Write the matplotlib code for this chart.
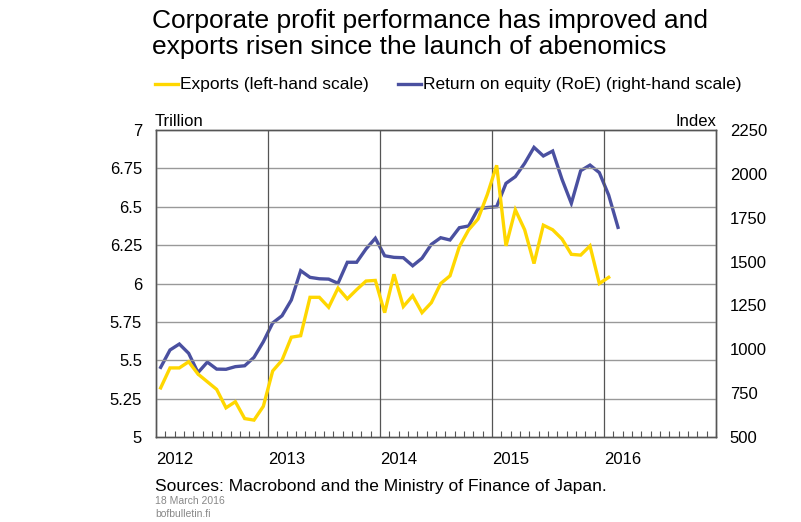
import numpy as np
import matplotlib
matplotlib.use("Agg")
import matplotlib.pyplot as plt
from matplotlib.ticker import FixedLocator, MultipleLocator

plt.rcParams["font.family"] = ["Liberation Sans", "DejaVu Sans"]

# Datos mensuales (a mitad de mes)
exports = [5.32, 5.45, 5.45, 5.49, 5.41, 5.36, 5.31, 5.19, 5.23, 5.12, 5.11, 5.20,
           5.43, 5.50, 5.65, 5.66, 5.91, 5.91, 5.845, 5.97, 5.90, 5.96, 6.016, 6.02,
           5.81, 6.06, 5.85, 5.92, 5.81, 5.875, 6.00, 6.05, 6.24, 6.35, 6.42, 6.58,
           6.77, 6.245, 6.48, 6.35, 6.13, 6.38, 6.35, 6.29, 6.19, 6.185, 6.245, 6.00,
           6.04]
roe = [897, 996, 1030, 977, 867, 927, 887, 886, 901, 906, 954, 1043,
       1150, 1191, 1281, 1448, 1410, 1402, 1400, 1376, 1496, 1496, 1572, 1633,
       1533, 1524, 1522, 1476, 1519, 1598, 1636, 1623, 1693, 1703, 1800, 1808,
       1813, 1946, 1984, 2060, 2151, 2102, 2130, 1969, 1832, 2018, 2050, 2007,
       1879, 1695]
start_year = 2012
years = [2012, 2013, 2014, 2015, 2016]
left_ticks = [5, 5.25, 5.5, 5.75, 6, 6.25, 6.5, 6.75, 7]
left_labels = ["5", "5.25", "5.5", "5.75", "6", "6.25", "6.5", "6.75", "7"]
right_ticks = [500, 750, 1000, 1250, 1500, 1750, 2000, 2250]

x_exp = start_year + (np.arange(len(exports)) + 0.5) / 12
x_roe = start_year + (np.arange(len(roe)) + 0.5) / 12

yellow = "#FFD700"
blue = "#4A50A0"

fig = plt.figure(figsize=(8.01, 5.22), dpi=100)
ax = fig.add_axes([156 / 801, 85 / 522, 560 / 801, 307 / 522])
ax2 = ax.twinx()

ax2.plot(x_roe, roe, color=blue, lw=2.4, solid_joinstyle="miter")
ax.plot(x_exp, exports, color=yellow, lw=2.4, solid_joinstyle="miter")
ax.set_zorder(ax2.get_zorder() + 1)
ax.patch.set_visible(False)

ax.set_xlim(2012, 2017)
ax.set_ylim(5, 7)
ax2.set_ylim(500, 2250)

ax.set_yticks(left_ticks)
ax.set_yticklabels(left_labels)
ax2.set_yticks(right_ticks)

ax.xaxis.set_major_locator(FixedLocator(years))
ax.set_xticklabels([str(y) for y in years], ha="left")
ax.xaxis.set_minor_locator(MultipleLocator(1 / 12))

ax.tick_params(axis="x", which="major", length=0, pad=11, labelsize=12)
ax.tick_params(axis="x", which="minor", direction="in", length=4, width=0.8, color="#555555")
ax.tick_params(axis="y", length=0, pad=10, labelsize=12)
ax2.tick_params(axis="y", length=0, pad=10, labelsize=12)

# Rejilla
for v in left_ticks[1:-1]:
    ax.axhline(v, color="#999999", lw=1, zorder=0)
for y in years[1:]:
    ax.axvline(y, color="#555555", lw=0.9, zorder=0)

for a in (ax, ax2):
    for s in a.spines.values():
        s.set_color("#555555")
        s.set_linewidth(1)

fig.text(152 / 801, 1 - 9 / 522, "Corporate profit performance has improved and\nexports risen since the launch of abenomics",
         fontsize=19, va="top", ha="left", linespacing=1.12)

# Leyenda
fig.add_artist(plt.Line2D([155 / 801, 178 / 801], [1 - 84 / 522] * 2, color=yellow, lw=2.4))
fig.text(180 / 801, 1 - 84 / 522, "Exports (left-hand scale)", fontsize=12.5, va="center")
fig.add_artist(plt.Line2D([398 / 801, 421 / 801], [1 - 84 / 522] * 2, color=blue, lw=2.4))
fig.text(423 / 801, 1 - 84 / 522, "Return on equity (RoE) (right-hand scale)", fontsize=12.5, va="center")

fig.text(155 / 801, 1 - 121 / 522, "Trillion", fontsize=12, va="center")
fig.text(716 / 801, 1 - 121 / 522, "Index", fontsize=12, va="center", ha="right")

fig.text(155 / 801, 1 - 487 / 522, "Sources: Macrobond and the Ministry of Finance of Japan.", fontsize=12.5, va="center")
fig.text(155 / 801, 1 - 501 / 522, "18 March 2016", fontsize=7.5, va="center", color="#888888")
fig.text(155 / 801, 1 - 514 / 522, "bofbulletin.fi", fontsize=7.5, va="center", color="#888888")

fig.savefig("out.png", dpi=100)
